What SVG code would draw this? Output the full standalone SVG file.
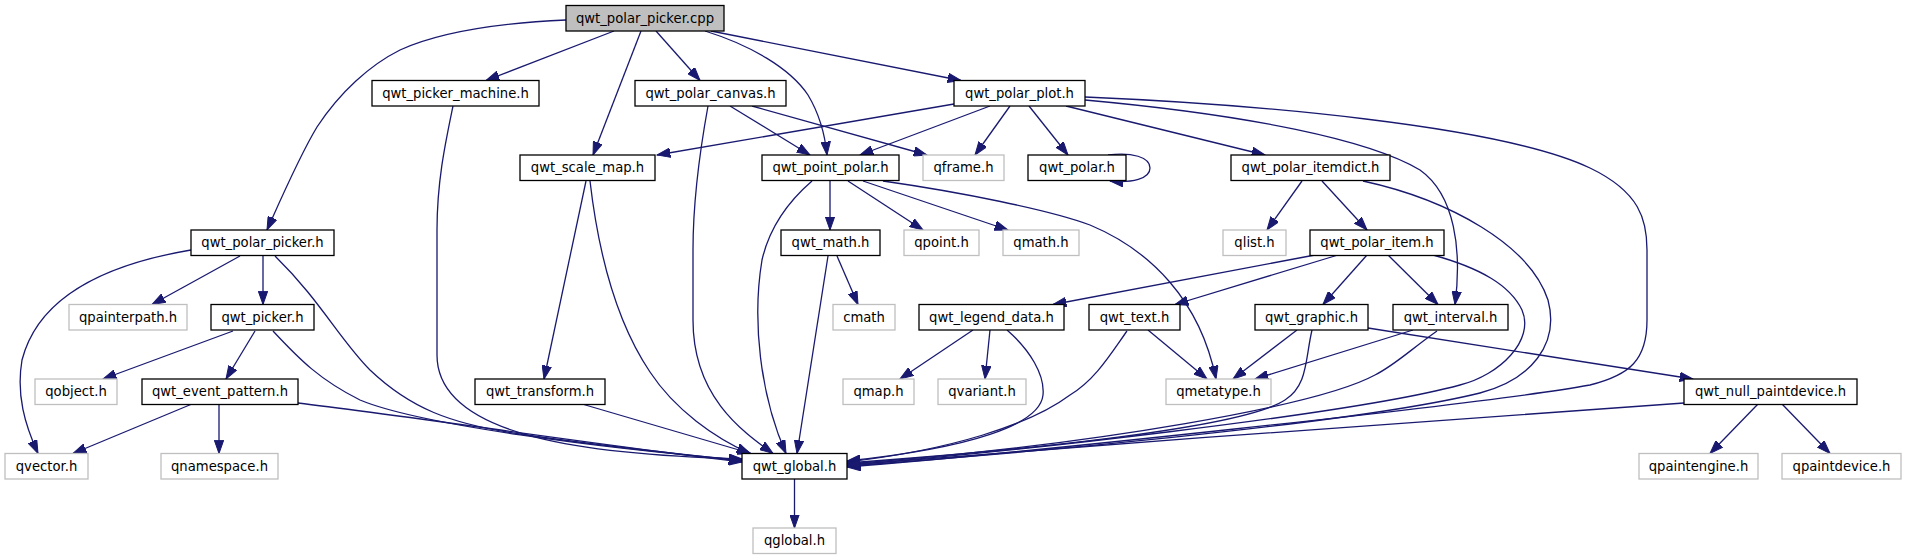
<svg xmlns="http://www.w3.org/2000/svg" width="1906" height="560" viewBox="0 0 1906 560">
<style>
.n rect{fill:#fff;stroke:#000;stroke-width:1.3}
.g rect{fill:#fff;stroke:#bfbfbf;stroke-width:1.3}
.r rect{fill:#bfbfbf;stroke:#000;stroke-width:1.3}
text{font-family:"DejaVu Sans","Liberation Sans",sans-serif;font-size:13.2px;fill:#000;text-anchor:middle}
#edges path{fill:none;stroke:#191970;stroke-width:1.3;marker-end:url(#a)}
</style>
<defs>
<marker id="a" markerUnits="userSpaceOnUse" markerWidth="14" markerHeight="10" viewBox="0 0 14 10" refX="13.3" refY="5" orient="auto">
<path d="M0,0.3 L13.3,5 L0,9.7 z" fill="#191970" stroke="#191970" stroke-width="1"/>
</marker>
</defs>
<rect width="1906" height="560" fill="#fff"/>
<g id="edges">
<path d="M566,20 C500,23 440,32 400,50 C370,65 340,92 317,127 C300,155 284,192 267,230"/>
<path d="M614,31 L486,80.5"/>
<path d="M641,31 L593,155"/>
<path d="M656,31 L700,80.5"/>
<path d="M705,31 C750,45 790,68 808,95 C820,115 825,135 827,155"/>
<path d="M711,31 L961,80.5"/>
<path d="M453,106 C446,140 437,180 437,230 L437,355 C437,440 600,455 742,459"/>
<path d="M730,106 L810,155"/>
<path d="M752,106 L927,155"/>
<path d="M708,106 C700,150 693,200 693,250 L693,320 C693,395 740,430 773,453.5"/>
<path d="M954,104 L657,155"/>
<path d="M990,106 L860,155"/>
<path d="M1010,106 L975,155"/>
<path d="M1029,106 L1068,155"/>
<path d="M1066,106 L1265,155"/>
<path d="M1085,100 C1250,115 1370,140 1420,170 C1455,195 1462,250 1455,304.5"/>
<path d="M1085,97 C1250,104 1500,125 1590,168 C1640,192 1647,220 1647,250 L1647,320 C1647,360 1630,375 1590,385 C1480,405 1000,455 847,467"/>
<path d="M1108,155 C1132,152 1150,157 1150,168 C1150,179 1132,183 1110,181"/>
<path d="M586,181 L544,379"/>
<path d="M590,181 C598,250 615,320 650,372 C675,410 715,438 750,453.5"/>
<path d="M830,181 L830,230"/>
<path d="M848,181 L923,230"/>
<path d="M863,181 L1008,230"/>
<path d="M883,181 C960,192 1050,210 1090,225 C1150,250 1200,300 1216,379"/>
<path d="M812,181 C790,200 770,225 762,260 C752,320 760,395 786,453.5"/>
<path d="M1302,181 L1267,230"/>
<path d="M1322,181 L1367,230"/>
<path d="M1363,181 C1450,200 1530,245 1548,300 C1560,345 1530,380 1480,393 C1350,425 1000,455 847,466"/>
<path d="M240,256 L152,304.5"/>
<path d="M263,256 L263,304.5"/>
<path d="M191,250 C120,262 40,290 22,360 C16,395 25,425 38,453.5"/>
<path d="M275,256 C320,300 340,340 370,370 C410,408 450,424 520,434 C600,446 690,455 742,461"/>
<path d="M837,256 L858,304.5"/>
<path d="M828,256 L797,453.5"/>
<path d="M1315,255 L1053,304.5"/>
<path d="M1338,255 L1175,304.5"/>
<path d="M1367,255 L1323,304.5"/>
<path d="M1388,255 L1438,304.5"/>
<path d="M1433,255 C1480,268 1510,285 1522,310 C1535,340 1500,375 1460,385 C1350,415 1000,453 847,465"/>
<path d="M233,331 L103,379"/>
<path d="M255,331 L226,379"/>
<path d="M273,331 C300,360 320,380 360,400 C420,425 600,448 742,460"/>
<path d="M973,330 L900,379"/>
<path d="M990,330 L985,379"/>
<path d="M1007,330 C1030,350 1045,375 1043,395 C1040,425 970,448 847,461"/>
<path d="M1148,330 L1207,379"/>
<path d="M1127,331 C1110,355 1095,380 1070,395 C1030,425 950,450 847,462"/>
<path d="M1297,330 L1233,379"/>
<path d="M1312,330 C1305,360 1308,385 1285,400 C1240,430 1000,452 847,463"/>
<path d="M1368,328 L1693,379"/>
<path d="M1413,330 L1255,379"/>
<path d="M1437,331 C1410,350 1395,365 1375,375 C1320,405 1100,445 847,464"/>
<path d="M192,404 L73,453.5"/>
<path d="M219,404 L219,453.5"/>
<path d="M298,403 C400,415 600,445 742,462"/>
<path d="M582,404 L751,453.5"/>
<path d="M1684,403 C1500,415 1100,445 847,465"/>
<path d="M1758,404 L1710,453.5"/>
<path d="M1782,404 L1830,453.5"/>
<path d="M794.5,479 L794.5,528"/>
</g>
<g id="n_cpp" class="r"><rect x="566" y="5.5" width="158" height="25.5"/><text x="645" y="22.5">qwt_polar_picker.cpp</text></g>
<g id="n_picker_machine" class="n"><rect x="372" y="80.5" width="167" height="25.5"/><text x="455.5" y="97.5">qwt_picker_machine.h</text></g>
<g id="n_polar_canvas" class="n"><rect x="635" y="80.5" width="151" height="25.5"/><text x="710.5" y="97.5">qwt_polar_canvas.h</text></g>
<g id="n_polar_plot" class="n"><rect x="954" y="80.5" width="131" height="25.5"/><text x="1019.5" y="97.5">qwt_polar_plot.h</text></g>
<g id="n_scale_map" class="n"><rect x="520" y="155" width="135" height="25.5"/><text x="587.5" y="172">qwt_scale_map.h</text></g>
<g id="n_point_polar" class="n"><rect x="762" y="155" width="137" height="25.5"/><text x="830.5" y="172">qwt_point_polar.h</text></g>
<g id="n_qframe" class="g"><rect x="923" y="155" width="81" height="25.5"/><text x="963.5" y="172">qframe.h</text></g>
<g id="n_polar" class="n"><rect x="1028" y="155" width="98" height="25.5"/><text x="1077" y="172">qwt_polar.h</text></g>
<g id="n_itemdict" class="n"><rect x="1231" y="155" width="159" height="25.5"/><text x="1310.5" y="172">qwt_polar_itemdict.h</text></g>
<g id="n_polar_picker" class="n"><rect x="191" y="230" width="143" height="25.5"/><text x="262.5" y="247">qwt_polar_picker.h</text></g>
<g id="n_math" class="n"><rect x="781" y="230" width="99" height="25.5"/><text x="830.5" y="247">qwt_math.h</text></g>
<g id="n_qpoint" class="g"><rect x="904" y="230" width="75" height="25.5"/><text x="941.5" y="247">qpoint.h</text></g>
<g id="n_qmath" class="g"><rect x="1003" y="230" width="76" height="25.5"/><text x="1041" y="247">qmath.h</text></g>
<g id="n_qlist" class="g"><rect x="1223" y="230" width="63" height="25.5"/><text x="1254.5" y="247">qlist.h</text></g>
<g id="n_polar_item" class="n"><rect x="1310" y="230" width="134" height="25.5"/><text x="1377" y="247">qwt_polar_item.h</text></g>
<g id="n_qpainterpath" class="g"><rect x="69" y="304.5" width="118" height="25.5"/><text x="128" y="321.5">qpainterpath.h</text></g>
<g id="n_picker" class="n"><rect x="211" y="304.5" width="103" height="25.5"/><text x="262.5" y="321.5">qwt_picker.h</text></g>
<g id="n_cmath" class="g"><rect x="833" y="304.5" width="62" height="25.5"/><text x="864" y="321.5">cmath</text></g>
<g id="n_legend_data" class="n"><rect x="919" y="304.5" width="145" height="25.5"/><text x="991.5" y="321.5">qwt_legend_data.h</text></g>
<g id="n_text" class="n"><rect x="1089" y="304.5" width="91" height="25.5"/><text x="1134.5" y="321.5">qwt_text.h</text></g>
<g id="n_graphic" class="n"><rect x="1255" y="304.5" width="113" height="25.5"/><text x="1311.5" y="321.5">qwt_graphic.h</text></g>
<g id="n_interval" class="n"><rect x="1393" y="304.5" width="115" height="25.5"/><text x="1450.5" y="321.5">qwt_interval.h</text></g>
<g id="n_qobject" class="g"><rect x="35" y="379" width="82" height="25.5"/><text x="76" y="396">qobject.h</text></g>
<g id="n_event_pattern" class="n"><rect x="142" y="379" width="156" height="25.5"/><text x="220" y="396">qwt_event_pattern.h</text></g>
<g id="n_transform" class="n"><rect x="475" y="379" width="130" height="25.5"/><text x="540" y="396">qwt_transform.h</text></g>
<g id="n_qmap" class="g"><rect x="843" y="379" width="71" height="25.5"/><text x="878.5" y="396">qmap.h</text></g>
<g id="n_qvariant" class="g"><rect x="938" y="379" width="88" height="25.5"/><text x="982" y="396">qvariant.h</text></g>
<g id="n_qmetatype" class="g"><rect x="1166" y="379" width="105" height="25.5"/><text x="1218.5" y="396">qmetatype.h</text></g>
<g id="n_null_paintdevice" class="n"><rect x="1684" y="379" width="173" height="25.5"/><text x="1770.5" y="396">qwt_null_paintdevice.h</text></g>
<g id="n_qvector" class="g"><rect x="5" y="453.5" width="83" height="25.5"/><text x="46.5" y="470.5">qvector.h</text></g>
<g id="n_qnamespace" class="g"><rect x="161" y="453.5" width="117" height="25.5"/><text x="219.5" y="470.5">qnamespace.h</text></g>
<g id="n_global" class="n"><rect x="742" y="453.5" width="105" height="25.5"/><text x="794.5" y="470.5">qwt_global.h</text></g>
<g id="n_qpaintengine" class="g"><rect x="1639" y="453.5" width="119" height="25.5"/><text x="1698.5" y="470.5">qpaintengine.h</text></g>
<g id="n_qpaintdevice" class="g"><rect x="1782" y="453.5" width="119" height="25.5"/><text x="1841.5" y="470.5">qpaintdevice.h</text></g>
<g id="n_qglobal" class="g"><rect x="753" y="528" width="83" height="25.5"/><text x="794.5" y="545">qglobal.h</text></g>
</svg>
